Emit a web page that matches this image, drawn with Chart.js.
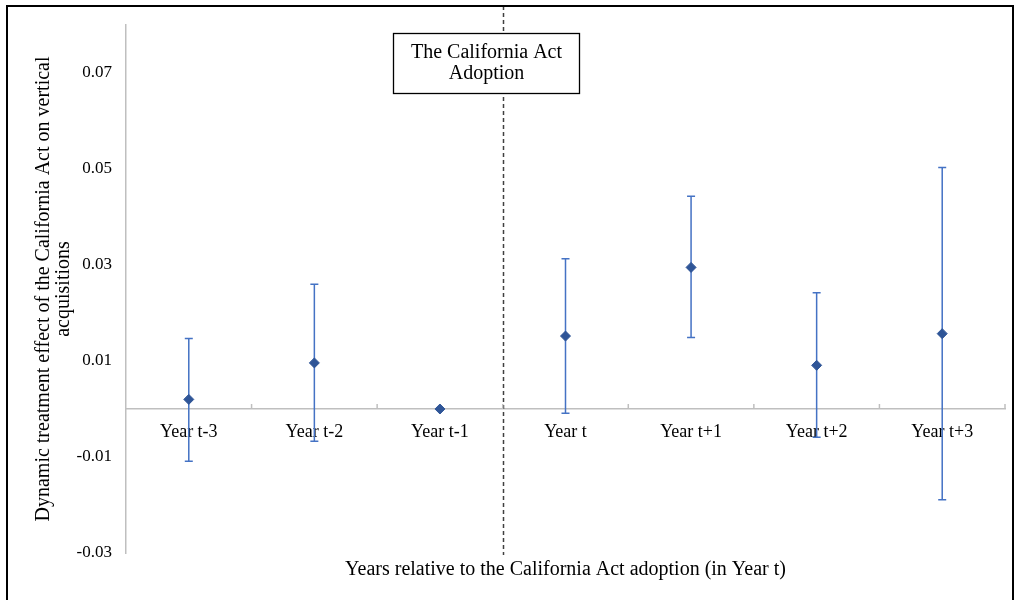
<!DOCTYPE html>
<html><head><meta charset="utf-8">
<script src="https://cdn.jsdelivr.net/npm/chart.js@4"></script>
<style>html,body{margin:0;padding:0;background:#fff}#wrap{width:1015px;height:600px;position:relative}</style>
</head><body><div id="wrap"><canvas id="c" width="1015" height="600"></canvas></div>
<script>
const categories = ['Year t-3','Year t-2','Year t-1','Year t','Year t+1','Year t+2','Year t+3'];
const estimates = [0.0020, 0.0096, 0.0000, 0.0152, 0.0295, 0.0091, 0.0157];
const upperBounds = [0.0147, 0.0260, null, 0.0313, 0.0443, 0.0242, 0.0503];
const lowerBounds = [-0.0109, -0.0067, null, -0.0009, 0.0149, -0.0059, -0.0189];
const yTickValues = [-0.03, -0.01, 0.01, 0.03, 0.05, 0.07];
const yMin = -0.03, yMax = 0.08;
const adoptionBoundary = 2.5; // between Year t-1 and Year t
const annotationLines = ['The California Act', 'Adoption'];
const yTitle = ['Dynamic treatment effect of the California Act on vertical', 'acquisitions'];
const xTitle = 'Years relative to the California Act adoption (in Year t)';

const F = "'Liberation Serif', 'Times New Roman', serif";

const extras = {
  id: 'extras',
  beforeDatasetsDraw(chart) {
    const {ctx, chartArea} = chart;
    const xs = chart.scales.x, ys = chart.scales.y;
    // dashed adoption line
    const lx = Math.round(xs.getPixelForValue(adoptionBoundary)) + 0.5;
    ctx.save();
    ctx.strokeStyle = '#404040';
    ctx.lineWidth = 1.5;
    ctx.setLineDash([4, 3]);
    ctx.beginPath();
    ctx.moveTo(lx, 6);
    ctx.lineTo(lx, chartArea.bottom + 2);
    ctx.stroke();
    ctx.restore();
    // error bars
    ctx.save();
    ctx.strokeStyle = '#4472C4';
    ctx.lineWidth = 1.5;
    for (let i = 0; i < categories.length; i++) {
      if (upperBounds[i] == null || lowerBounds[i] == null) continue;
      const x = xs.getPixelForValue(i);
      const yu = ys.getPixelForValue(upperBounds[i]);
      const yl = ys.getPixelForValue(lowerBounds[i]);
      ctx.beginPath();
      ctx.moveTo(x, yu); ctx.lineTo(x, yl);
      ctx.moveTo(x - 4, yu); ctx.lineTo(x + 4, yu);
      ctx.moveTo(x - 4, yl); ctx.lineTo(x + 4, yl);
      ctx.stroke();
    }
    ctx.restore();
  },
  afterDraw(chart) {
    const {ctx, chartArea} = chart;
    const xs = chart.scales.x, ys = chart.scales.y;
    const y0 = ys.getPixelForValue(0);
    // category boundary tick marks above the axis
    ctx.save();
    ctx.strokeStyle = '#BFBFBF';
    ctx.lineWidth = 1.5;
    for (let i = 1; i <= categories.length; i++) {
      const x = xs.getPixelForValue(i - 0.5);
      ctx.beginPath();
      ctx.moveTo(x, y0);
      ctx.lineTo(x, y0 - 5);
      ctx.stroke();
    }
    ctx.restore();
    // annotation box
    const lx = xs.getPixelForValue(adoptionBoundary);
    const bw = 186, bh = 60;
    const bx = Math.round(lx - 17 - bw / 2) + 0.5;
    const by = Math.round(chartArea.top + 8) + 0.5;
    ctx.save();
    ctx.fillStyle = '#fff';
    ctx.fillRect(bx, by, bw, bh);
    ctx.strokeStyle = '#000';
    ctx.lineWidth = 1.3;
    ctx.strokeRect(bx, by, bw, bh);
    ctx.fillStyle = '#000';
    ctx.font = "20px " + F;
    ctx.textAlign = 'center';
    ctx.textBaseline = 'middle';
    ctx.fillText(annotationLines[0], bx + bw / 2, by + 19);
    ctx.fillText(annotationLines[1], bx + bw / 2, by + 40);
    ctx.restore();
    // outer frame
    ctx.save();
    ctx.strokeStyle = '#000';
    ctx.lineWidth = 2;
    ctx.strokeRect(7, 6, 1006, 600);
    ctx.restore();
  }
};

new Chart(document.getElementById('c'), {
  type: 'line',
  data: {
    labels: categories,
    datasets: [{
      data: estimates,
      showLine: false,
      pointStyle: 'rectRot',
      pointRadius: 5,
      pointBackgroundColor: '#2F5597',
      pointBorderColor: '#2F5597',
      pointBorderWidth: 1
    }]
  },
  options: {
    responsive: false,
    animation: false,
    layout: {padding: {left: 8, top: 25, right: 10, bottom: 0}},
    plugins: {legend: {display: false}, tooltip: {enabled: false}},
    scales: {
      x: {
        type: 'category',
        position: {y: 0},
        offset: true,
        grid: {display: false, drawTicks: false},
        border: {display: true, color: '#BFBFBF', width: 1.5},
        ticks: {font: {family: F, size: 18}, color: '#000', padding: 12, maxRotation: 0, autoSkip: false}
      },
      x2: {
        type: 'category',
        position: 'bottom',
        labels: categories,
        grid: {display: false, drawTicks: false},
        border: {display: false},
        ticks: {display: false},
        title: {display: true, text: xTitle, font: {family: F, size: 20}, color: '#000', padding: {top: 0, bottom: 18}},
        afterFit(s) { s.height = 47; }
      },
      y: {
        min: yMin, max: yMax,
        position: 'left',
        afterBuildTicks(s) { s.ticks = yTickValues.map(v => ({value: v})); },
        grid: {display: false, drawTicks: false},
        border: {color: '#BFBFBF', width: 1.5},
        ticks: {font: {family: F, size: 17}, color: '#000', padding: 14, callback: v => Number(v).toFixed(2)},
        title: {display: true, text: yTitle, font: {family: F, size: 20, lineHeight: 1.0}, color: '#000', padding: {top: 26, bottom: 0}},
        afterFit(s) { s.width = 118; }
      }
    }
  },
  plugins: [extras]
});
</script>
</body></html>
